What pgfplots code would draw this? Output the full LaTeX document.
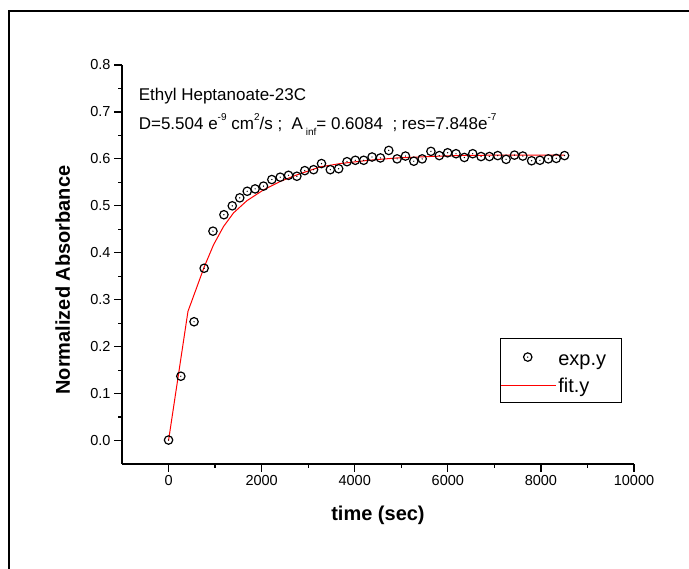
\documentclass[border=0pt]{standalone}
\usepackage{fontspec}
\setmainfont{Liberation Sans}
\usepackage{pgfplots}
\pgfplotsset{compat=1.18}

% circle with a dot in the middle, as Origin draws it
\pgfdeclareplotmark{circdot}{%
  \pgfpathcircle{\pgfpointorigin}{\pgfplotmarksize}\pgfusepathqstroke
  \pgfpathcircle{\pgfpointorigin}{0.7pt}\pgfusepathqfill}

\newcommand\sups[1]{\raisebox{0.56em}{\fontsize{10}{10}\selectfont #1}}
\newcommand\subs[1]{\raisebox{-0.35em}{\fontsize{10}{10}\selectfont #1}}

\pgfplotstableread{
x y
0 0.001
264 0.137
548 0.253
765 0.367
954 0.446
1190 0.481
1369 0.500
1530 0.517
1690 0.531
1860 0.536
2040 0.542
2219 0.556
2399 0.561
2578 0.565
2757 0.563
2927 0.575
3116 0.577
3286 0.590
3475 0.577
3655 0.579
3834 0.594
4013 0.597
4193 0.597
4372 0.604
4552 0.602
4731 0.618
4910 0.600
5090 0.606
5269 0.595
5449 0.600
5637 0.616
5817 0.607
5996 0.613
6176 0.611
6355 0.603
6535 0.611
6714 0.605
6893 0.605
7073 0.607
7252 0.599
7432 0.608
7611 0.606
7800 0.596
7979 0.597
8159 0.600
8329 0.601
8508 0.607
}\expdata

\pgfplotstableread{
x y
0 0.0
417 0.275
767 0.370
967 0.417
1182 0.456
1397 0.485
1685 0.511
2042 0.534
2401 0.552
2759 0.566
3260 0.583
3690 0.590
4300 0.597
4909 0.602
5600 0.605
6340 0.6075
7400 0.608
8508 0.608
}\fitdata

\begin{document}
\begin{tikzpicture}
\useasboundingbox (0,0) rectangle (689pt,569pt);
\draw[line width=2pt] (9pt,-5pt) -- (9pt,558pt) -- (700pt,558pt);
\begin{axis}[
  at={(122pt,105pt)}, anchor=south west,
  scale only axis, width=512pt, height=399pt,
  xmin=-1000, xmax=10000, ymin=-0.05, ymax=0.8,
  axis x line*=bottom, axis y line*=left,
  axis line style={line width=1.4pt, -},
  xtick={0,2000,4000,6000,8000,10000},
  ytick={0,0.1,0.2,0.3,0.4,0.5,0.6,0.7,0.8},
  minor x tick num=1, minor y tick num=1,
  tick align=outside, major tick length=8pt, minor tick length=4pt,
  tick style={line width=1.2pt, black},
  scaled x ticks=false,
  xticklabel style={/pgf/number format/1000 sep={}},
  yticklabel style={/pgf/number format/.cd, fixed, fixed zerofill, precision=1},
  /pgf/number format/assume math mode=true,
  tick label style={font=\fontsize{14.5}{17}\selectfont},
  xlabel={time (sec)}, ylabel={Normalized Absorbance},
  label style={font=\fontsize{20}{24}\selectfont\bfseries},
  xlabel style={at={(axis description cs:0.5,-0.128)}, anchor=center},
  ylabel style={at={(axis description cs:-0.116,0.461)}, anchor=center},
  legend image code/.code={\draw[mark repeat=2,mark phase=2,#1] plot coordinates {(0pt,0pt)(27pt,0pt)(55pt,0pt)};},
  legend style={at={(axis description cs:0.738,0.316)}, anchor=north west,
    draw=black, line width=0.8pt, font=\fontsize{20}{24}\selectfont,
    inner xsep=0pt, inner ysep=6.5pt, row sep=6.5pt},
  legend cell align=left,
]
\addplot[only marks, mark=circdot, mark size=4.2pt, mark options={line width=1.2pt, black}] table[x=x, y=y] {\expdata};
\addlegendentry{exp.y\rule{0pt}{19pt}\rule{13pt}{0pt}}
\addplot[red, line width=1pt, no marks] table[x=x, y=y] {\fitdata};
\addlegendentry{fit.y}

\node[anchor=base west, inner sep=0pt, font=\fontsize{17}{20}\selectfont] at (axis cs:-643,0.725) {Ethyl Heptanoate-23C};
\node[anchor=base west, inner sep=0pt, font=\fontsize{17}{20}\selectfont] at (axis cs:-643,0.6624)
  {D=5.504 e\sups{-9} cm\sups{2}/s ;\ \ A\,\subs{inf}= 0.6084\ \ ; res=7.848e\sups{-7}};
\end{axis}
\end{tikzpicture}
\end{document}
